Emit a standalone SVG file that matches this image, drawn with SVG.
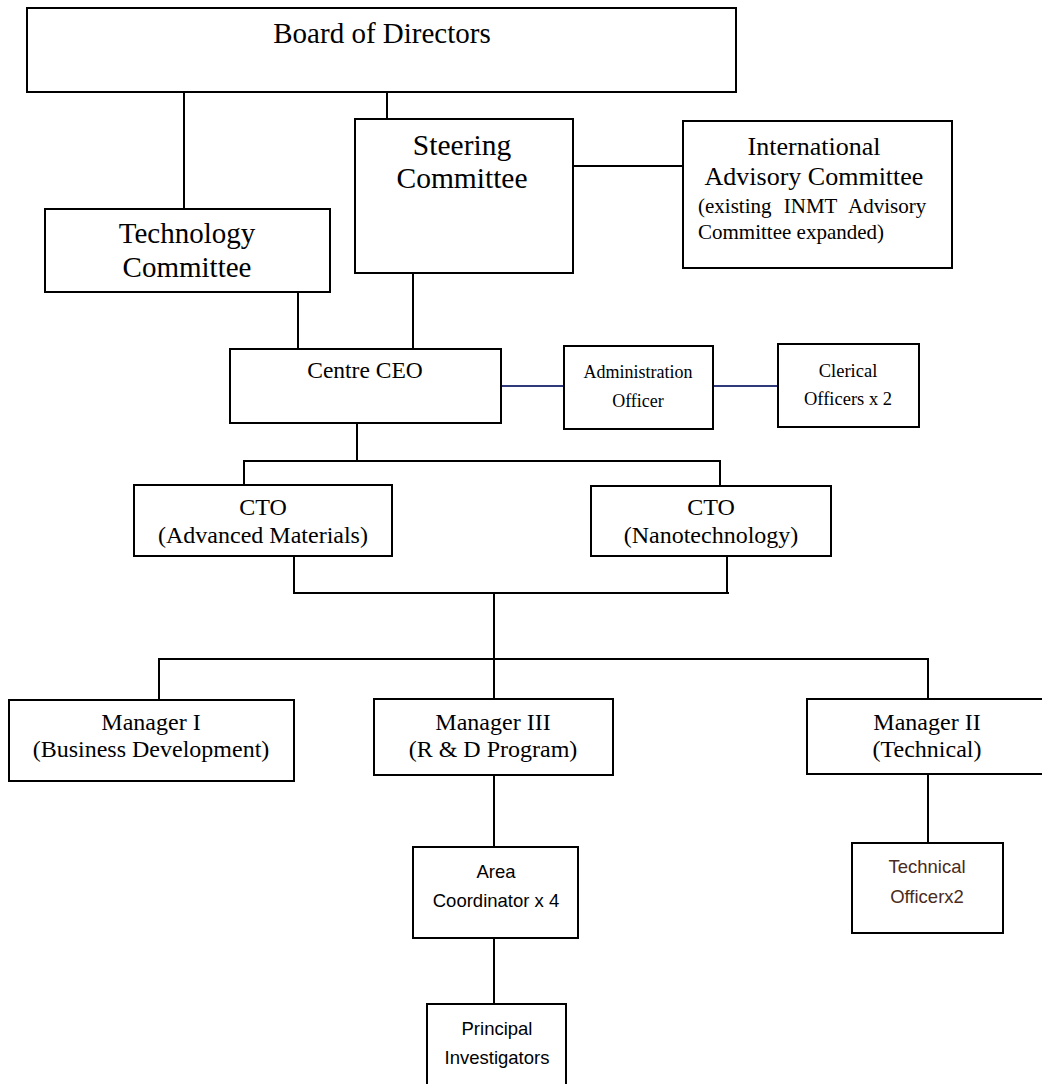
<svg xmlns="http://www.w3.org/2000/svg" width="1042" height="1084" viewBox="0 0 1042 1084">
<style>
.box{fill:#fff;stroke:#000;stroke-width:2}
.ln{stroke:#000;stroke-width:2;fill:none}
.bl{stroke:#2e3a7a;stroke-width:2;fill:none}
.t{font-family:"Liberation Serif","Times New Roman",serif;fill:#000;text-anchor:middle}
.s{font-family:"Liberation Sans",Arial,sans-serif;fill:#000;text-anchor:middle;font-size:18.5px}
.br{fill:#4b2a20}
</style>
<rect width="1042" height="1084" fill="#fff"/>
<g id="connectors">
<line class="ln" x1="184" y1="92" x2="184" y2="209"/>
<line class="ln" x1="387" y1="93" x2="387" y2="119"/>
<line class="ln" x1="573" y1="166" x2="683" y2="166"/>
<line class="ln" x1="298" y1="292" x2="298" y2="349"/>
<line class="ln" x1="413" y1="273" x2="413" y2="349"/>
<line class="bl" x1="501" y1="386" x2="564" y2="386"/>
<line class="bl" x1="713" y1="386" x2="778" y2="386"/>
<line class="ln" x1="357" y1="423" x2="357" y2="461"/>
<polyline class="ln" points="244,485 244,461 720,461 720,486"/>
<polyline class="ln" points="294,556 294,593 729,593"/>
<line class="ln" x1="727" y1="556" x2="727" y2="593"/>
<line class="ln" x1="494" y1="593" x2="494" y2="699"/>
<polyline class="ln" points="159,700 159,659 928,659 928,699"/>
<line class="ln" x1="494" y1="775" x2="494" y2="847"/>
<line class="ln" x1="494" y1="938" x2="494" y2="1004"/>
<line class="ln" x1="928" y1="774" x2="928" y2="843"/>
</g>
<g id="board">
<rect class="box" x="27" y="8" width="709" height="84"/>
<text class="t" x="382" y="43" font-size="29">Board of Directors</text>
</g>
<g id="steering">
<rect class="box" x="355" y="119" width="218" height="154"/>
<text class="t" x="462" y="155" font-size="29.5">Steering</text>
<text class="t" x="462" y="188" font-size="29.5">Committee</text>
</g>
<g id="international">
<rect class="box" x="683" y="121" width="269" height="147"/>
<text class="t" x="814" y="155" font-size="26">International</text>
<text class="t" x="814" y="185" font-size="26">Advisory Committee</text>
<text class="t" x="698" y="213" font-size="21" style="text-anchor:start" word-spacing="7">(existing INMT Advisory</text>
<text class="t" x="698" y="239" font-size="21" style="text-anchor:start">Committee expanded)</text>
</g>
<g id="technology">
<rect class="box" x="45" y="209" width="285" height="83"/>
<text class="t" x="187" y="243" font-size="29">Technology</text>
<text class="t" x="187" y="277" font-size="29">Committee</text>
</g>
<g id="ceo">
<rect class="box" x="230" y="349" width="271" height="74"/>
<text class="t" x="365" y="378" font-size="23.5">Centre CEO</text>
</g>
<g id="admin">
<rect class="box" x="564" y="346" width="149" height="83"/>
<text class="t" x="638" y="378" font-size="18">Administration</text>
<text class="t" x="638" y="407" font-size="18">Officer</text>
</g>
<g id="clerical">
<rect class="box" x="778" y="344" width="141" height="83"/>
<text class="t" x="848" y="377" font-size="18.5">Clerical</text>
<text class="t" x="848" y="405" font-size="18.5">Officers x 2</text>
</g>
<g id="cto1">
<rect class="box" x="134" y="485" width="258" height="71"/>
<text class="t" x="263" y="515" font-size="24">CTO</text>
<text class="t" x="263" y="543" font-size="24">(Advanced Materials)</text>
</g>
<g id="cto2">
<rect class="box" x="591" y="486" width="240" height="70"/>
<text class="t" x="711" y="515" font-size="24">CTO</text>
<text class="t" x="711" y="543" font-size="24">(Nanotechnology)</text>
</g>
<g id="manager1">
<rect class="box" x="9" y="700" width="285" height="81"/>
<text class="t" x="151" y="730" font-size="24">Manager I</text>
<text class="t" x="151" y="757" font-size="24">(Business Development)</text>
</g>
<g id="manager3">
<rect class="box" x="374" y="699" width="239" height="76"/>
<text class="t" x="493" y="730" font-size="24">Manager III</text>
<text class="t" x="493" y="757" font-size="24">(R &amp; D Program)</text>
</g>
<g id="manager2">
<rect class="box" x="807" y="699" width="245" height="75"/>
<text class="t" x="927" y="730" font-size="24">Manager II</text>
<text class="t" x="927" y="757" font-size="24">(Technical)</text>
</g>
<g id="area">
<rect class="box" x="413" y="847" width="165" height="91"/>
<text class="s" x="496" y="878">Area</text>
<text class="s" x="496" y="907">Coordinator x 4</text>
</g>
<g id="principal">
<rect class="box" x="427" y="1004" width="139" height="90"/>
<text class="s" x="497" y="1035">Principal</text>
<text class="s" x="497" y="1064">Investigators</text>
</g>
<g id="technical">
<rect class="box" x="852" y="843" width="151" height="90"/>
<text class="s br" x="927" y="873">Technical</text>
<text class="s br" x="927" y="903">Officerx2</text>
</g>
</svg>
